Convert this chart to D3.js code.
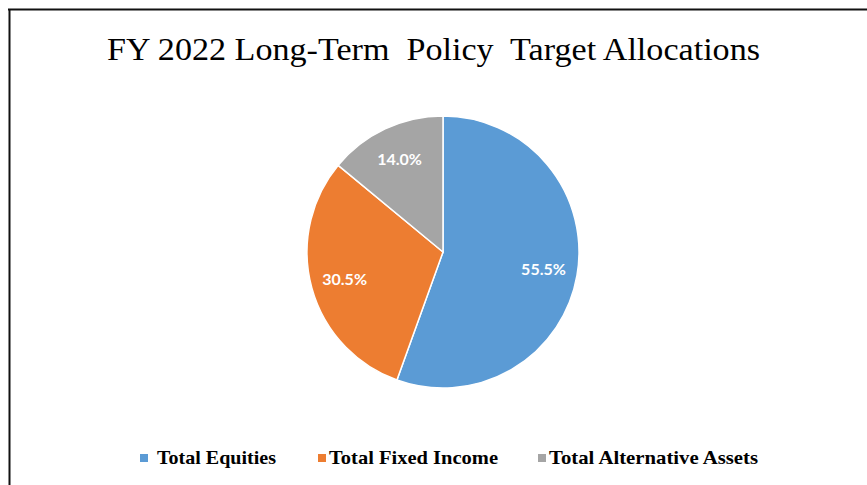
<!DOCTYPE html>
<html>
<head>
<meta charset="utf-8">
<style>
  body { margin: 0; background: #fff; }
  .title { font-family: "Liberation Serif", "Times New Roman", serif; font-size: 32px; fill: #000; }
  .legend text { font-family: "Liberation Serif", "Times New Roman", serif; font-size: 19px; font-weight: bold; fill: #000; }
  .slice-label { font-family: Lato, "Open Sans", sans-serif; font-size: 16px; font-weight: bold; fill: #fff; }
</style>
<script src="https://d3js.org/d3.v7.min.js"></script>
</head>
<body>
<script>
// chart data
var categories = ['Total Equities', 'Total Fixed Income', 'Total Alternative Assets'];
var shares = [55.5, 30.5, 14.0];
var chartTitle = 'FY 2022 Long-Term\u00a0 Policy\u00a0 Target Allocations';

var width = 867, height = 485,
    cx = 443, cy = 252, radius = 136;

var color = d3.scaleOrdinal()
  .domain(categories)
  .range(['#5b9bd5', '#ed7d31', '#a5a5a5']);

var svg = d3.select('body').append('svg')
  .attr('width', width)
  .attr('height', height);

// frame (top and left edges only)
svg.append('line')
  .attr('x1', 8).attr('x2', width).attr('y1', 9.5).attr('y2', 9.5)
  .attr('stroke', '#111').attr('stroke-width', 2);
svg.append('line')
  .attr('x1', 9.5).attr('x2', 9.5).attr('y1', 9).attr('y2', height)
  .attr('stroke', '#111').attr('stroke-width', 2);

svg.append('text')
  .attr('class', 'title')
  .attr('x', 107)
  .attr('y', 60)
  .attr('textLength', 653)
  .attr('lengthAdjust', 'spacingAndGlyphs')
  .text(chartTitle);

var pie = d3.pie().sort(null).value(function(d, i) { return shares[i]; });
var arcs = pie(categories);

var arc = d3.arc().innerRadius(0).outerRadius(radius);
var labelArc = d3.arc().innerRadius(radius * 0.75).outerRadius(radius * 0.75);

var g = svg.append('g').attr('transform', 'translate(' + cx + ',' + cy + ')');

g.selectAll('path')
  .data(arcs)
  .enter().append('path')
  .attr('d', arc)
  .attr('fill', function(d) { return color(d.data); })
  .attr('stroke', '#fff')
  .attr('stroke-width', 1.5);

g.selectAll('.slice-label')
  .data(arcs)
  .enter().append('text')
  .attr('class', 'slice-label')
  .attr('transform', function(d) { return 'translate(' + labelArc.centroid(d) + ')'; })
  .attr('text-anchor', 'middle')
  .attr('dy', '0.35em')
  .text(function(d, i) { return d3.format('.1f')(shares[i]) + '%'; });

// legend
var legendX = [140, 318, 538];
var legendW = [119, 169, 209];
var legend = svg.append('g').attr('class', 'legend');
var item = legend.selectAll('g')
  .data(categories)
  .enter().append('g')
  .attr('transform', function(d, i) { return 'translate(' + legendX[i] + ',458)'; });

item.append('rect')
  .attr('x', 0).attr('y', -4)
  .attr('width', 8).attr('height', 8)
  .attr('fill', function(d) { return color(d); });

item.append('text')
  .attr('x', function(d, i) { return i === 0 ? 17 : 11; })
  .attr('y', 6)
  .attr('textLength', function(d, i) { return legendW[i]; })
  .attr('lengthAdjust', 'spacingAndGlyphs')
  .text(function(d) { return d; });
</script>
</body>
</html>
